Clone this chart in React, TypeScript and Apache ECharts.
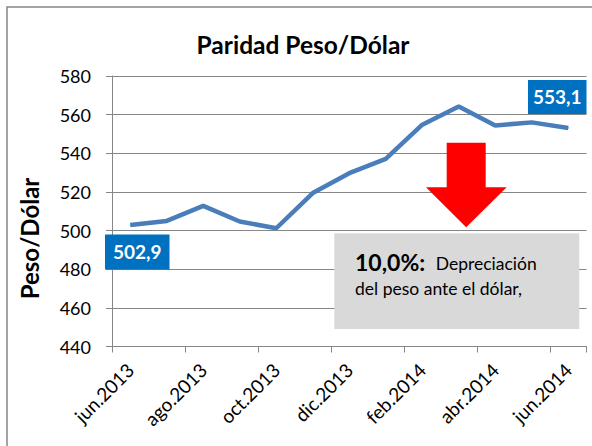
import React, { useEffect, useRef } from 'react';
import * as echarts from 'echarts';

const months = [
  'jun.2013', 'jul.2013', 'ago.2013', 'sep.2013', 'oct.2013', 'nov.2013', 'dic.2013',
  'ene.2014', 'feb.2014', 'mar.2014', 'abr.2014', 'may.2014', 'jun.2014',
];
const pesoPorDolar = [502.9, 505.0, 512.8, 504.7, 501.2, 519.4, 529.7, 537.1, 554.8, 564.2, 554.4, 556.0, 553.1];
const yMin = 440;
const yMax = 580;
const yStep = 20;
const titleText = 'Paridad Peso/Dólar';
const axisNameText = 'Peso/Dólar';
const noteBold = '10,0%:';
const noteLine1 = 'Depreciación';
const noteLine2 = 'del peso ante el dólar,';

const FONT = 'Lato, "Noto Sans", sans-serif';
const GRID = '#868686';

export default function App() {
  const ref = useRef<HTMLDivElement>(null);
  useEffect(() => {
    const chart = echarts.init(ref.current!, null, { renderer: 'svg' });
    const fmt = (v: number) => v.toFixed(1).replace('.', ',');
    const last = pesoPorDolar.length - 1;
    const labelBase = {
      show: true,
      position: 'inside',
      formatter: (p: any) => fmt(p.value),
      color: '#ffffff',
      fontFamily: FONT,
      fontWeight: 'bold',
      fontSize: 19,
      lineHeight: 19,
      backgroundColor: '#0070C0',
    };
    const data = pesoPorDolar.map((v, i) => {
      if (i === 0) return { value: v, label: { ...labelBase, offset: [7, 27], padding: [8, 8, 8, 8] } };
      if (i === last) return { value: v, label: { ...labelBase, offset: [-11, -31], padding: [8, 5, 7, 5] } };
      return v;
    });
    chart.setOption({
      animation: false,
      grid: { left: 112, top: 76, right: 5.5, bottom: 99.5, containLabel: false },
      xAxis: {
        type: 'category',
        data: months,
        boundaryGap: true,
        axisLine: { show: true, lineStyle: { color: GRID, width: 1 } },
        axisTick: { show: true, interval: 1, length: 6, lineStyle: { color: GRID } },
        axisLabel: {
          interval: 1,
          rotate: 45,
          margin: 20,
          fontFamily: FONT,
          fontSize: 19,
          color: '#000000',
        },
        splitLine: { show: false },
      },
      yAxis: {
        type: 'value',
        min: yMin,
        max: yMax,
        interval: yStep,
        axisLine: { show: true, lineStyle: { color: GRID, width: 1 } },
        axisTick: { show: true, length: 6, lineStyle: { color: GRID } },
        axisLabel: { margin: 21, fontFamily: FONT, fontSize: 18, color: '#000000' },
        splitLine: { show: true, lineStyle: { color: GRID, width: 1 } },
      },
      series: [
        {
          type: 'line',
          data,
          symbol: 'circle',
          symbolSize: 1,
          showSymbol: true,
          itemStyle: { color: '#4A7EBB' },
          lineStyle: { color: '#4A7EBB', width: 4.5 },
          label: { show: false },
          z: 3,
        },
      ],
      graphic: [
        {
          type: 'rect',
          shape: { x: 7, y: 7, width: 620, height: 470 },
          style: { fill: 'none', stroke: '#878787', lineWidth: 1.5 },
          silent: true,
        },
        {
          type: 'text',
          x: 303,
          y: 44,
          style: {
            text: titleText,
            fontFamily: FONT,
            fontWeight: 'bold',
            fontSize: 24.5,
            fill: '#000000',
            align: 'center',
            verticalAlign: 'middle',
          },
        },
        {
          type: 'text',
          x: 29,
          y: 238.5,
          rotation: Math.PI / 2,
          style: {
            text: axisNameText,
            fontFamily: FONT,
            fontWeight: 'bold',
            fontSize: 24,
            fill: '#000000',
            align: 'center',
            verticalAlign: 'middle',
          },
        },
        {
          type: 'polygon',
          shape: {
            points: [
              [446.7, 142.7], [485.7, 142.7], [485.7, 187.3], [506.7, 187.3],
              [466.2, 227.3], [426, 187.3], [446.7, 187.3],
            ],
          },
          style: { fill: '#FF0000' },
          z: 10,
        },
        {
          type: 'rect',
          shape: { x: 334.3, y: 233.3, width: 245, height: 95.7 },
          style: { fill: '#D9D9D9' },
          z: 10,
        },
        {
          type: 'text',
          x: 355,
          y: 261.5,
          z: 11,
          style: {
            text: noteBold,
            fontFamily: FONT,
            fontWeight: 'bold',
            fontSize: 23,
            fill: '#000000',
            align: 'left',
            verticalAlign: 'middle',
          },
        },
        {
          type: 'text',
          x: 435.7,
          y: 263.5,
          z: 11,
          style: {
            text: noteLine1,
            fontFamily: FONT,
            fontSize: 17.5,
            fill: '#000000',
            align: 'left',
            verticalAlign: 'middle',
          },
        },
        {
          type: 'text',
          x: 355,
          y: 288.5,
          z: 11,
          style: {
            text: noteLine2,
            fontFamily: FONT,
            fontSize: 17.5,
            fill: '#000000',
            align: 'left',
            verticalAlign: 'middle',
          },
        },
      ],
    });
    return () => chart.dispose();
  }, []);
  return <div ref={ref} style={{ position: 'absolute', left: 0, top: 0, width: 592, height: 446 }} />;
}
